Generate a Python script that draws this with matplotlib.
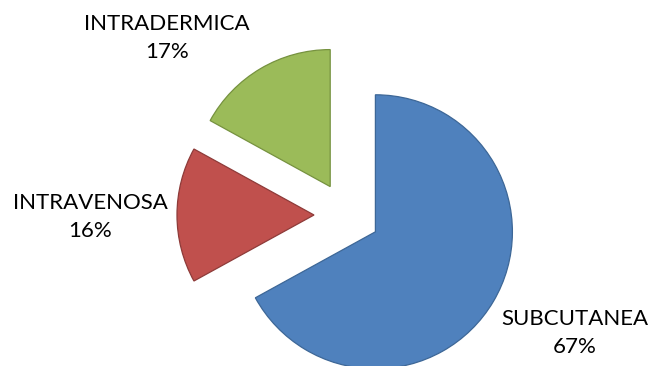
import matplotlib.pyplot as plt

# --- Data ---
labels = ["SUBCUTANEA", "INTRAVENOSA", "INTRADERMICA"]
shares = [67, 16, 17]
colors = ["#4F81BD", "#C0504D", "#9BBB59"]
edges = ["#3D6797", "#8E3B39", "#76923F"]

# --- Layout (pixel space, y measured from top) ---
W, H = 652, 366
CENTER = (347, 215)
RADIUS = 137
EXPLODE = 33  # offset in pixels along each wedge's mid-angle
label_pos = [(575, 333), (90, 217), (167, 38)]

fig = plt.figure(figsize=(W / 100, H / 100), dpi=100)
ax = fig.add_axes([0, 0, 1, 1])

wedges, _ = ax.pie(
    shares,
    colors=colors,
    startangle=90,
    counterclock=False,
    explode=[EXPLODE] * len(shares),
    radius=RADIUS,
    center=(CENTER[0], H - CENTER[1]),
    frame=True,
    wedgeprops=dict(linewidth=0.9),
)
for w, ec in zip(wedges, edges):
    w.set_edgecolor(ec)

ax.set_xlim(0, W)
ax.set_ylim(0, H)
ax.set_aspect("equal")
ax.axis("off")

# --- Labels ---
for name, pct, (x, y) in zip(labels, shares, label_pos):
    ax.text(x, H - y, f"{name}\n{pct}%", ha="center", va="center",
            fontsize=16, family="Lato", color="#000000", linespacing=1.5)

fig.savefig("out.png", dpi=100)
